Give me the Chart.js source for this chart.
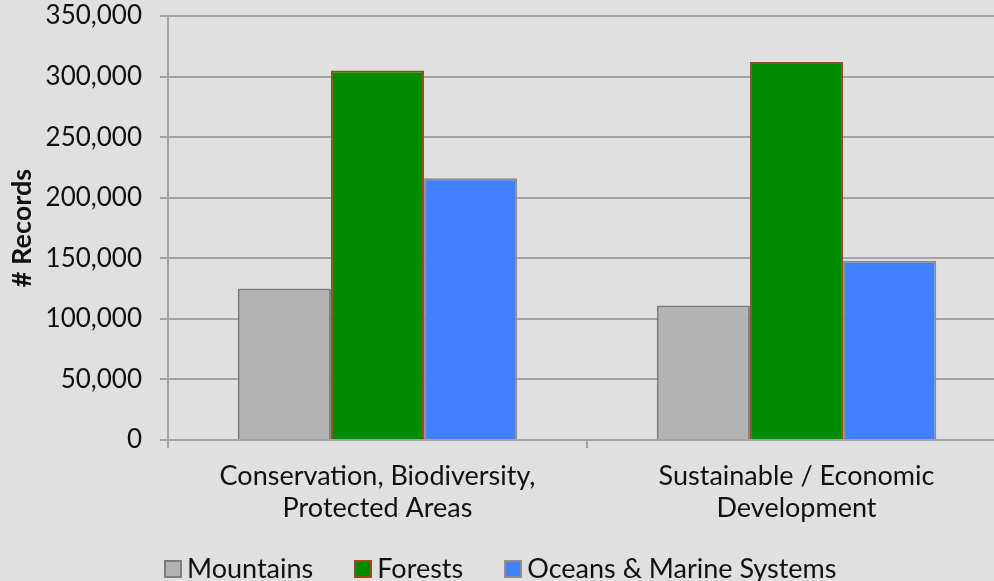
<!DOCTYPE html>
<html>
<head>
<meta charset="utf-8">
<script src="https://cdn.jsdelivr.net/npm/chart.js@4"></script>
<style>
  html, body { margin: 0; padding: 0; background: #e0e0e0; overflow: hidden; }
  #wrap { position: relative; width: 1010px; height: 581px; }
  #legend {
    position: absolute; left: 164px; top: 551px;
    display: flex; align-items: center;
    font-family: Lato, sans-serif; font-size: 27px; color: #111;
  }
  #legend .item { display: flex; align-items: center; margin-right: 41px; }
  #legend .box { width: 14px; height: 14px; border: 2px solid; margin-right: 5px; margin-top: 2px; }
</style>
</head>
<body>
<div id="wrap">
  <canvas id="myChart" width="1010" height="581"></canvas>
  <div id="legend"></div>
</div>
<script>
const categories = [
    ['Conservation, Biodiversity,', 'Protected Areas'],
    ['Sustainable / Economic', 'Development']
];
const seriesNames = ['Mountains', 'Forests', 'Oceans & Marine Systems'];
const mountains = [125000, 111000];
const forests = [305000, 312000];
const oceans = [216000, 148000];
const yTicks = [0, 50000, 100000, 150000, 200000, 250000, 300000, 350000];

const fills = ['#b3b3b3', '#008a00', '#4080ff'];
const borders = ['#7d7d7d', '#9a4a1c', '#8c8f88'];
const gridColor = '#a3a3a3';
const fontFamily = 'Lato, sans-serif';

const ctx = document.getElementById('myChart').getContext('2d');
const myChart = new Chart(ctx, {
    type: 'bar',
    data: {
        labels: categories,
        datasets: [mountains, forests, oceans].map((values, i) => ({
            label: seriesNames[i],
            data: values,
            backgroundColor: fills[i],
            borderColor: borders[i],
            borderWidth: 2,
            categoryPercentage: 0.667,
            barPercentage: 1
        }))
    },
    options: {
        responsive: false,
        animation: false,
        layout: { padding: { top: 16, right: 4, bottom: 0, left: 0 } },
        plugins: {
            legend: { display: false },
            tooltip: { enabled: false }
        },
        scales: {
            x: {
                grid: {
                    drawOnChartArea: false,
                    drawTicks: true,
                    tickLength: 8,
                    color: gridColor,
                    lineWidth: 2
                },
                border: { color: gridColor, width: 2 },
                ticks: {
                    color: '#111',
                    padding: 12,
                    font: { family: fontFamily, size: 27, lineHeight: 1.2 },
                    maxRotation: 0
                },
                afterFit: (scale) => {
                    scale.height = 141;
                    scale.paddingLeft = 0;
                    scale.paddingRight = 0;
                }
            },
            y: {
                min: 0,
                max: 350000,
                afterBuildTicks: (scale) => {
                    scale.ticks = yTicks.map(v => ({ value: v }));
                },
                grid: {
                    color: gridColor,
                    lineWidth: 2,
                    tickLength: 8
                },
                border: { color: gridColor, width: 2 },
                ticks: {
                    color: '#111',
                    padding: 18,
                    font: { family: fontFamily, size: 26 },
                    callback: (v) => v.toLocaleString('en-US')
                },
                title: {
                    display: true,
                    text: '# Records',
                    color: '#111',
                    padding: { top: 6, bottom: 0 },
                    font: { family: fontFamily, size: 27, weight: 'bold' }
                },
                afterFit: (scale) => {
                    scale.width = 168;
                    scale.paddingTop = 0;
                    scale.paddingBottom = 0;
                }
            }
        }
    }
});

// legend built from the chart's datasets
const legend = document.getElementById('legend');
myChart.data.datasets.forEach(ds => {
    const item = document.createElement('div');
    item.className = 'item';
    const box = document.createElement('span');
    box.className = 'box';
    box.style.background = ds.backgroundColor;
    box.style.borderColor = ds.borderColor;
    const text = document.createElement('span');
    text.textContent = ds.label;
    item.appendChild(box);
    item.appendChild(text);
    legend.appendChild(item);
});
</script>
</body>
</html>
